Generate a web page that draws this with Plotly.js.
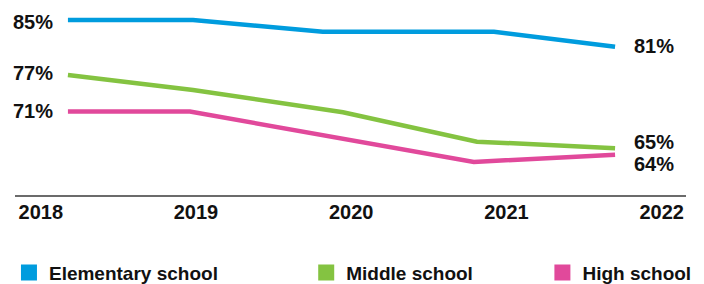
<!DOCTYPE html>
<html>
<head>
<meta charset="utf-8">
<script src="https://cdn.plot.ly/plotly-3.0.1.min.js"></script>
<style>html,body{margin:0;padding:0;background:#fff}#chart{width:704px;height:284px}</style>
</head>
<body>
<div id="chart"></div>
<script>
// Data (x as fractional year position of each point)
const seriesNames = ["Elementary school", "Middle school", "High school"];
const elemX = [2018.175, 2018.981, 2019.817, 2020.920, 2021.700];
const elemY = [85, 85, 83.2, 83.2, 80.9];
const middleX = [2018.175, 2018.981, 2019.947, 2020.810, 2021.700];
const middleY = [76.6, 74.3, 70.9, 66.4, 65.4];
const highX = [2018.175, 2018.961, 2020.790, 2021.700];
const highY = [71, 71, 63.3, 64.4];
const tickYears = [2018, 2019, 2020, 2021, 2022];
const tickLabels = ["2018", "2019", "2020", "2021", "2022"];

const colors = ["#009CDE", "#84C341", "#E1499B"];
const FONT = "Liberation Sans, Arial, sans-serif";

const xs = [elemX, middleX, highX];
const ys = [elemY, middleY, highY];
const legends = ["legend", "legend2", "legend3"];

const traces = [];
seriesNames.forEach((name, i) => {
  traces.push({
    x: xs[i], y: ys[i], type: "scatter", mode: "lines",
    line: {color: colors[i], width: 4.5}, showlegend: false, hoverinfo: "skip"
  });
});
seriesNames.forEach((name, i) => {
  traces.push({
    x: [null], y: [null], type: "scatter", mode: "markers", name: name,
    marker: {symbol: "square", size: 16, color: colors[i]},
    legend: legends[i], showlegend: true
  });
});

const leftShift = [-2, 2, 1];
const rightShift = [1, 6, -9];
const annotations = [];
const labelFont = {family: FONT, size: 20, color: "#111", weight: "bold"};
for (let i = 0; i < 3; i++) {
  const n = xs[i].length;
  annotations.push({
    x: xs[i][0], y: ys[i][0], xref: "x", yref: "y",
    text: Math.round(ys[i][0]) + "%", showarrow: false,
    xanchor: "right", yanchor: "middle", xshift: -13, yshift: leftShift[i],
    font: labelFont
  });
  annotations.push({
    x: xs[i][n - 1], y: ys[i][n - 1], xref: "x", yref: "y",
    text: Math.round(ys[i][n - 1]) + "%", showarrow: false,
    xanchor: "left", yanchor: "middle", xshift: 17, yshift: rightShift[i],
    font: labelFont
  });
}

const legendFont = {family: FONT, size: 19, color: "#111", weight: "bold"};
const legendBase = {orientation: "h", yanchor: "middle", xanchor: "left", y: -0.42,
  font: legendFont, bgcolor: "rgba(0,0,0,0)", itemclick: false, borderwidth: 0};

const layout = {
  width: 704, height: 284,
  margin: {l: 15, r: 18, t: 10, b: 89, autoexpand: false},
  paper_bgcolor: "#fff", plot_bgcolor: "#fff",
  showlegend: true,
  xaxis: {
    range: [2017.834, 2022.157], tickvals: tickYears, ticktext: tickLabels,
    showgrid: false, zeroline: false, showline: true, linecolor: "#6b6b6b", linewidth: 1.5,
    ticks: "", ticklen: 0, ticklabelstandoff: -2, tickfont: labelFont, fixedrange: true, automargin: false
  },
  yaxis: {
    range: [58.24, 86.53], visible: false, showgrid: false, zeroline: false, fixedrange: true
  },
  legend: Object.assign({}, legendBase, {x: -0.009}),
  legend2: Object.assign({}, legendBase, {x: 0.434}),
  legend3: Object.assign({}, legendBase, {x: 0.786}),
  annotations: annotations
};

Plotly.newPlot("chart", traces, layout, {displayModeBar: false, staticPlot: true});
</script>
</body>
</html>
